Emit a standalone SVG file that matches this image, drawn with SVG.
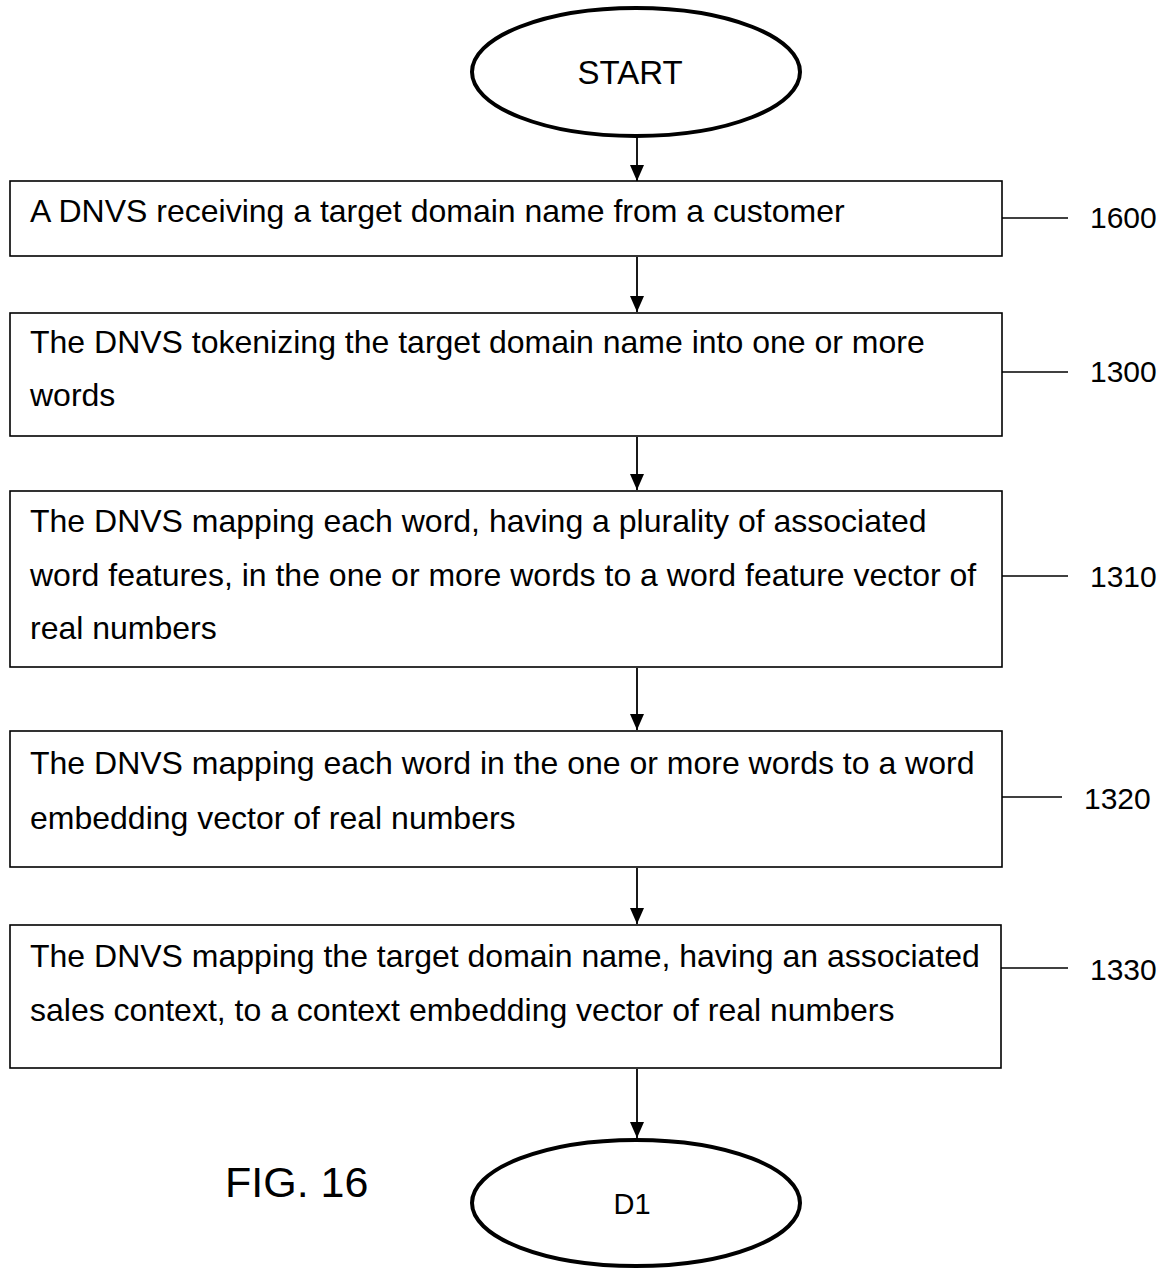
<svg xmlns="http://www.w3.org/2000/svg" width="1168" height="1269" viewBox="0 0 1168 1269">
  <style>
    .term { fill: none; stroke: #000; stroke-width: 4; }
    .box { fill: #fff; stroke: #000; stroke-width: 1.6; }
    .lead { stroke: #000; stroke-width: 1.6; }
    .txt { font-family: "Liberation Sans", Arial, sans-serif; font-size: 32px; fill: #000; }
    .ref { font-family: "Liberation Sans", Arial, sans-serif; font-size: 30px; fill: #000; }
    .conn line { stroke: #000; stroke-width: 1.8; marker-end: url(#arrow); }
  </style>
  <defs>
    <marker id="arrow" markerWidth="16" markerHeight="14" refX="16" refY="7" orient="auto" markerUnits="userSpaceOnUse" viewBox="0 0 16 14">
      <path d="M0,0 L16,7 L0,14 Z" fill="#000"/>
    </marker>
  </defs>
  <rect width="1168" height="1269" fill="#fff"/>

  <g id="start">
    <ellipse class="term" cx="636" cy="72" rx="164" ry="64"/>
    <text class="txt" x="630" y="84" text-anchor="middle" style="font-size:33px">START</text>
  </g>

  <g id="step-1600">
    <rect class="box" x="10" y="181" width="992" height="75"/>
    <text class="txt" x="30" y="222">A DNVS receiving a target domain name from a customer</text>
    <line class="lead" x1="1002" y1="218" x2="1068" y2="218"/>
    <text class="ref" x="1090" y="228">1600</text>
  </g>

  <g id="step-1300">
    <rect class="box" x="10" y="313" width="992" height="123"/>
    <text class="txt" x="30" y="353">The DNVS tokenizing the target domain name into one or more</text>
    <text class="txt" x="30" y="406">words</text>
    <line class="lead" x1="1002" y1="372" x2="1068" y2="372"/>
    <text class="ref" x="1090" y="382">1300</text>
  </g>

  <g id="step-1310">
    <rect class="box" x="10" y="491" width="992" height="176"/>
    <text class="txt" x="30" y="532">The DNVS mapping each word, having a plurality of associated</text>
    <text class="txt" x="30" y="586">word features, in the one or more words to a word feature vector of</text>
    <text class="txt" x="30" y="639">real numbers</text>
    <line class="lead" x1="1002" y1="576" x2="1068" y2="576"/>
    <text class="ref" x="1090" y="587">1310</text>
  </g>

  <g id="step-1320">
    <rect class="box" x="10" y="731" width="992" height="136"/>
    <text class="txt" x="30" y="774">The DNVS mapping each word in the one or more words to a word</text>
    <text class="txt" x="30" y="829">embedding vector of real numbers</text>
    <line class="lead" x1="1002" y1="797" x2="1062" y2="797"/>
    <text class="ref" x="1084" y="809">1320</text>
  </g>

  <g id="step-1330">
    <rect class="box" x="10" y="925" width="991" height="143"/>
    <text class="txt" x="30" y="967">The DNVS mapping the target domain name, having an associated</text>
    <text class="txt" x="30" y="1021">sales context, to a context embedding vector of real numbers</text>
    <line class="lead" x1="1001" y1="968" x2="1068" y2="968"/>
    <text class="ref" x="1090" y="980">1330</text>
  </g>

  <g id="end-d1">
    <ellipse class="term" cx="636" cy="1203" rx="164" ry="63"/>
    <text class="ref" x="632" y="1214" text-anchor="middle" style="font-size:29px">D1</text>
  </g>

  <g id="fig-label">
    <text class="txt" x="225" y="1197" style="font-size:43px">FIG. 16</text>
  </g>

  <g id="connectors" class="conn">
    <line x1="637" y1="137" x2="637" y2="181"/>
    <line x1="637" y1="257" x2="637" y2="312"/>
    <line x1="637" y1="437" x2="637" y2="490"/>
    <line x1="637" y1="668" x2="637" y2="730"/>
    <line x1="637" y1="868" x2="637" y2="924"/>
    <line x1="637" y1="1069" x2="637" y2="1138"/>
  </g>
</svg>
